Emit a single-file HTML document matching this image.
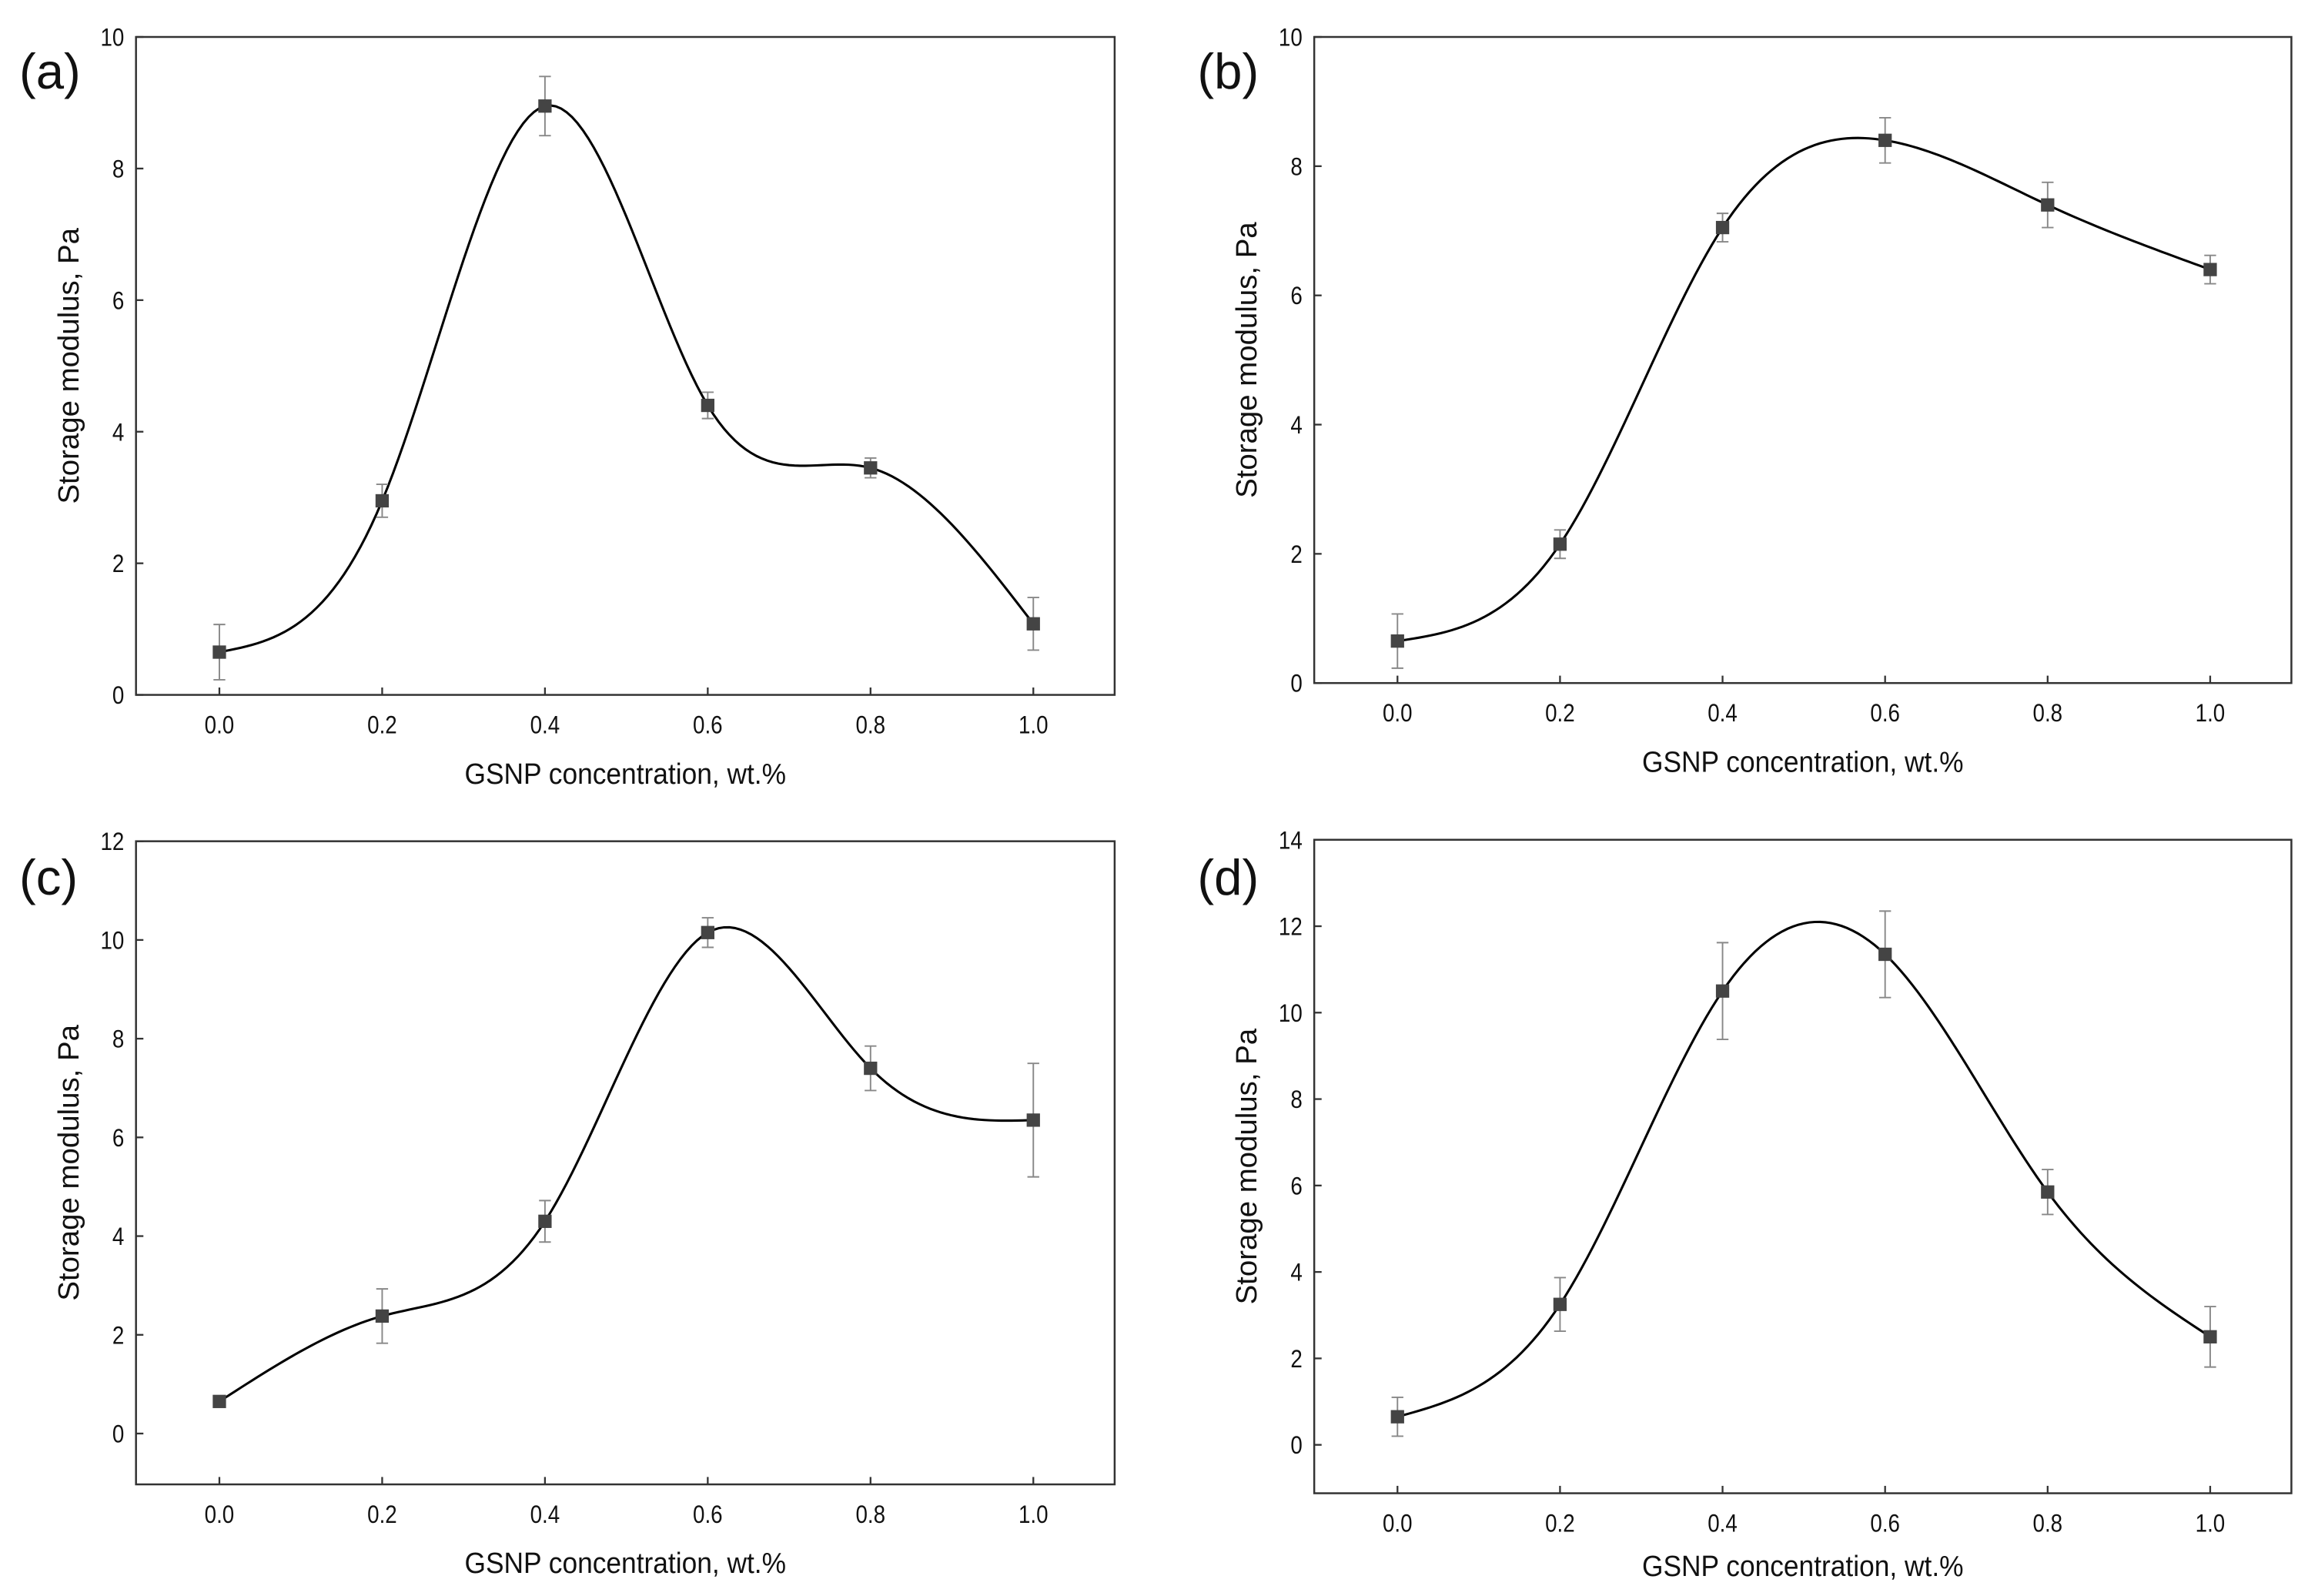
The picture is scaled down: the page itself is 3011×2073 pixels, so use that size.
<!DOCTYPE html>
<html><head><meta charset="utf-8"><style>
html,body{margin:0;padding:0;background:#fff;width:3011px;height:2073px;overflow:hidden}
svg{display:block}
text{font-family:"Liberation Sans",Arial,sans-serif;fill:#111}
</style></head><body>
<svg id="fig" width="3011" height="2073" viewBox="0 0 1568 1079.5" preserveAspectRatio="none" xmlns="http://www.w3.org/2000/svg"></svg>
<script>
const categories = [0.0, 0.2, 0.4, 0.6, 0.8, 1.0];
const xTickLabels = ["0.0","0.2","0.4","0.6","0.8","1.0"];
const valuesA = [0.65, 2.95, 8.95, 4.4, 3.45, 1.08];
const errorsA = [0.42, 0.25, 0.45, 0.2, 0.15, 0.4];
const valuesB = [0.65, 2.15, 7.05, 8.4, 7.4, 6.4];
const errorsB = [0.42, 0.22, 0.22, 0.35, 0.35, 0.22];
const valuesC = [0.65, 2.38, 4.3, 10.15, 7.4, 6.35];
const errorsC = [0.1, 0.55, 0.42, 0.3, 0.45, 1.15];
const valuesD = [0.65, 3.25, 10.5, 11.35, 5.85, 2.5];
const errorsD = [0.45, 0.62, 1.12, 1.0, 0.52, 0.7];
const yTicksA = [0,2,4,6,8,10];
const yTicksB = [0,2,4,6,8,10];
const yTicksC = [0,2,4,6,8,10,12];
const yTicksD = [0,2,4,6,8,10,12,14];

const NS="http://www.w3.org/2000/svg";
const svg=document.getElementById('fig');
function mk(tag,attrs,parent){const e=document.createElementNS(NS,tag);for(const k in attrs)e.setAttribute(k,attrs[k]);(parent||svg).appendChild(e);return e;}

const panels=[
 {id:'a',L:92,R:754,T:25,B:470,ymin:0,ymax:10,vals:valuesA,errs:errorsA,ticks:yTicksA,lx:13,ly:60,xl:490,xt:530},
 {id:'b',L:889,R:1550,T:25,B:462,ymin:0,ymax:10,vals:valuesB,errs:errorsB,ticks:yTicksB,lx:810,ly:60,xl:482,xt:522},
 {id:'c',L:92,R:754,T:569,B:1004,ymin:-1.03,ymax:12,vals:valuesC,errs:errorsC,ticks:yTicksC,lx:13,ly:605,xl:1024,xt:1064},
 {id:'d',L:889,R:1550,T:568,B:1010,ymin:-1.12,ymax:14,vals:valuesD,errs:errorsD,ticks:yTicksD,lx:810,ly:605,xl:1030,xt:1066}
];

panels.forEach(p=>{
  const g=mk('g',{});
  
  
  const x0=p.L+(p.R-p.L)*0.0852, x1=p.R-(p.R-p.L)*0.0831;
  const xs=v=>x0+(x1-x0)*(v-categories[0])/(categories[categories.length-1]-categories[0]);
  const ys=v=>p.B-(p.B-p.T)*(v-p.ymin)/(p.ymax-p.ymin);
  const frame=mk('rect',{x:p.L,y:p.T,width:p.R-p.L,height:p.B-p.T,fill:'none',stroke:'#333','stroke-width':1.3},g);
  
  
  p.ticks.forEach(t=>{
    const y=ys(t);
    mk('line',{x1:p.L,x2:p.L+5,y1:y,y2:y,stroke:'#333','stroke-width':1.2},g);
    const tl=mk('text',{x:p.L-8,y:y+6,'text-anchor':'end','font-size':17,transform:`translate(${p.L-8} 0) scale(0.85 1) translate(${-(p.L-8)} 0)`},g);
    tl.textContent=t;
    
    
  });
  categories.forEach((c,i)=>{
    const x=xs(c);
    mk('line',{x1:x,x2:x,y1:p.B,y2:p.B-5,stroke:'#333','stroke-width':1.2},g);
    const tl=mk('text',{x:x,y:p.xl+6,'text-anchor':'middle','font-size':17,transform:`translate(${x} 0) scale(0.85 1) translate(${-x} 0)`},g);
    tl.textContent=xTickLabels[i];
    
    
  });
  const mx=(p.L+p.R)/2;
  const xt=mk('text',{x:mx,y:p.xt,'text-anchor':'middle','font-size':20,transform:`translate(${mx} 0) scale(0.92 1) translate(${-mx} 0)`},g);
  xt.textContent='GSNP concentration, wt.%';
  
  
  const cy=(p.T+p.B)/2;
  const yt=mk('text',{x:p.L-39,y:cy,'text-anchor':'middle','font-size':20,transform:`rotate(-90 ${p.L-39} ${cy})`},g);
  yt.textContent='Storage modulus, Pa';
  
  
  const lab=mk('text',{x:p.lx,y:p.ly,'font-size':34},g);
  lab.textContent='('+p.id+')';
  
  
  const X=categories.map(xs), Y=p.vals.map(ys), n=X.length;
  const h=[],a=[],l=[1],mu=[0],z=[0],cc=new Array(n).fill(0);
  for(let i=0;i<n-1;i++)h.push(X[i+1]-X[i]);
  for(let i=1;i<n-1;i++){a[i]=3/h[i]*(Y[i+1]-Y[i])-3/h[i-1]*(Y[i]-Y[i-1]);}
  for(let i=1;i<n-1;i++){l[i]=2*(X[i+1]-X[i-1])-h[i-1]*mu[i-1];mu[i]=h[i]/l[i];z[i]=(a[i]-h[i-1]*z[i-1])/l[i];}
  const b=[],d=[];
  for(let j=n-2;j>=0;j--){cc[j]=(j>0?z[j]-mu[j]*cc[j+1]:0);b[j]=(Y[j+1]-Y[j])/h[j]-h[j]*(cc[j+1]+2*cc[j])/3;d[j]=(cc[j+1]-cc[j])/(3*h[j]);}
  let dstr='';
  for(let j=0;j<n-1;j++){for(let k=0;k<=30;k++){const t=h[j]*k/30;const yy=Y[j]+b[j]*t+cc[j]*t*t+d[j]*t*t*t;dstr+=(j===0&&k===0?'M':'L')+(X[j]+t).toFixed(2)+' '+yy.toFixed(2)+' ';}}
  const line=mk('path',{d:dstr,fill:'none',stroke:'#000','stroke-width':1.6},g);
  
  
  categories.forEach((c,i)=>{
    const x=xs(c),yh=ys(p.vals[i]+p.errs[i]),yl=ys(p.vals[i]-p.errs[i]);
    const eb=mk('path',{d:`M${x} ${yh}V${yl}M${x-4} ${yh}H${x+4}M${x-4} ${yl}H${x+4}`,stroke:'#888','stroke-width':1,fill:'none'},g);
    
    
    const m=mk('rect',{x:x-4.5,y:ys(p.vals[i])-4.5,width:9,height:9,fill:'#444'},g);
    
    
  });
});
</script>
</body></html>
